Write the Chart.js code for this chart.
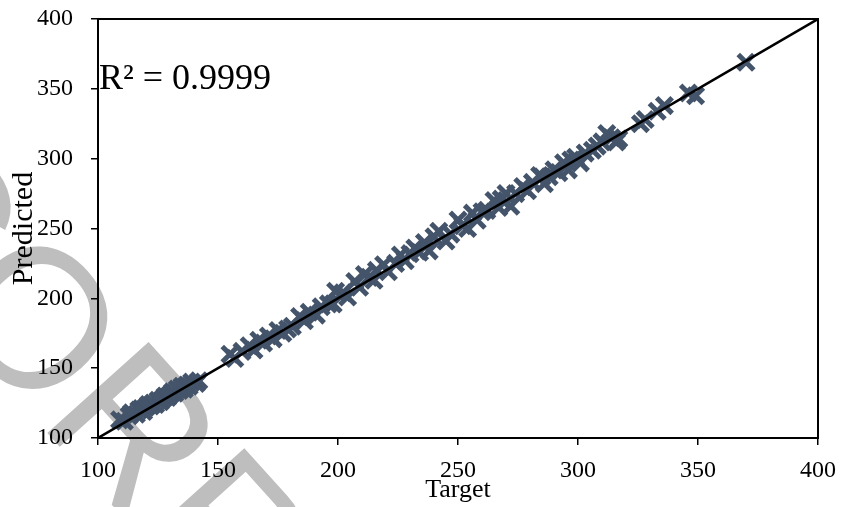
<!DOCTYPE html>
<html>
<head>
<meta charset="utf-8">
<script src="https://cdn.jsdelivr.net/npm/chart.js@4/dist/chart.umd.min.js"></script>
<style>
    html, body { margin: 0; padding: 0; background: #ffffff; }
    canvas { display: block; }
</style>
</head>
<body>
<canvas id="scatterChart" width="841" height="507"></canvas>
<script>
const targetVals = [
    109, 111, 113, 114, 116, 117, 118, 119, 120, 121, 122, 123, 124, 125, 126,
    127, 128, 129, 130, 131, 132, 133, 134, 135, 136, 137, 138, 139, 141, 142,
    155, 157, 160, 163, 165, 167, 169, 171, 173, 175, 177, 179, 181, 184, 186,
    188, 191, 193, 196, 198, 199, 202, 204, 207, 209, 211, 213, 215, 216, 219,
    221, 224, 226, 228, 230, 232, 234, 236, 238, 240, 242, 245, 247, 250, 252,
    254, 256, 258, 260, 262, 265, 267, 268, 270, 272, 274, 277, 279, 281, 284,
    285, 286, 288, 290, 292, 294, 296, 297, 299, 301, 303, 306, 308, 310, 312,
    314, 316, 317, 326, 328, 333, 336, 346, 349, 370
];
const predictedVals = [
    113, 112, 116, 118, 117, 120, 121, 119, 122, 124, 123, 125, 124, 127, 126,
    128, 130, 129, 131, 133, 132, 135, 134, 137, 135, 138, 137, 140, 139, 141,
    160, 157, 162, 166, 163, 170, 168, 173, 171, 177, 175, 178, 180, 187, 184,
    190, 188, 194, 196, 196, 205, 204, 201, 212, 208, 217, 215, 213, 220, 224,
    219, 225, 231, 227, 232, 236, 233, 240, 234, 244, 248, 241, 246, 256, 252,
    250, 261, 256, 262, 263, 270, 265, 271, 275, 266, 275, 280, 277, 283, 288,
    287, 282, 287, 292, 290, 297, 292, 299, 301, 297, 304, 306, 309, 312, 318,
    315, 312, 314, 325, 328, 334, 338, 347, 345, 369
];
const lineX = [100, 400];
const lineY = [100, 400];

const AXIS_MIN = 100;
const AXIS_MAX = 400;
const AXIS_STEP = 50;
const X_TITLE = "Target";
const Y_TITLE = "Predicted";
const R2_LABEL = "R\u00b2 = 0.9999";
const WATERMARK = "UNCORRECTED PROOF";

const SERIF = "'Liberation Serif', 'Times New Roman', serif";
const markerColor = "#44546a";

function toPoints(xs, ys) {
    return xs.map((x, i) => ({ x, y: ys[i] }));
}

// faint rotated watermark behind everything, the "O" centred left of the plot
const watermarkPlugin = {
    id: "watermark",
    beforeDraw(chart) {
        const { ctx } = chart;
        const size = 198;
        ctx.save();
        ctx.font = `${size}px 'Liberation Sans', Arial, sans-serif`;
        ctx.textAlign = "left";
        ctx.textBaseline = "alphabetic";
        const before = ctx.measureText("UNC").width;
        const oWidth = ctx.measureText("O").width;
        ctx.translate(38, 316);
        ctx.rotate(48 * Math.PI / 180);
        ctx.fillStyle = "#bebebe";
        ctx.fillText(WATERMARK, -(before + oWidth / 2), size * 0.36);
        ctx.restore();
    },
};

// box round the plot and the R² note
const framePlugin = {
    id: "frame",
    afterDraw(chart) {
        const { ctx, chartArea } = chart;
        ctx.save();
        ctx.strokeStyle = "#000000";
        ctx.lineWidth = 2;
        ctx.strokeRect(chartArea.left, chartArea.top,
            chartArea.right - chartArea.left, chartArea.bottom - chartArea.top);
        ctx.fillStyle = "#000000";
        ctx.font = `36px ${SERIF}`;
        ctx.textBaseline = "alphabetic";
        ctx.textAlign = "left";
        ctx.fillText(R2_LABEL, chartArea.left + 1, 89);
        ctx.restore();
    },
};

const tickFont = { family: SERIF, size: 24 };

function noEdgePadding(scale) {
    scale.paddingTop = 0;
    scale.paddingBottom = 0;
    scale.paddingLeft = 0;
    scale.paddingRight = 0;
}

new Chart(document.getElementById("scatterChart"), {
    type: "scatter",
    data: {
        datasets: [
            {
                type: "line",
                data: toPoints(lineX, lineY),
                borderColor: "#000000",
                borderWidth: 2.5,
                pointRadius: 0,
                fill: false,
                order: 0,
            },
            {
                data: toPoints(targetVals, predictedVals),
                pointStyle: "crossRot",
                pointRadius: 11,
                pointBorderWidth: 5,
                borderColor: markerColor,
                backgroundColor: markerColor,
                order: 1,
            },
        ],
    },
    options: {
        responsive: false,
        animation: false,
        events: [],
        layout: { padding: { top: 19, right: 23, left: 0, bottom: 0 } },
        plugins: {
            legend: { display: false },
            tooltip: { enabled: false },
        },
        scales: {
            x: {
                type: "linear",
                min: AXIS_MIN,
                max: AXIS_MAX,
                afterFit(scale) {
                    scale.height = 69;
                    noEdgePadding(scale);
                },
                ticks: {
                    stepSize: AXIS_STEP,
                    color: "#000000",
                    font: tickFont,
                    padding: 11,
                    maxRotation: 0,
                },
                grid: {
                    drawOnChartArea: false,
                    tickLength: 7,
                    color: "#000000",
                    lineWidth: 1.5,
                },
                border: { color: "#000000", width: 2 },
                title: {
                    display: true,
                    text: X_TITLE,
                    color: "#000000",
                    font: { family: SERIF, size: 26 },
                    padding: { top: 0, bottom: 1 },
                },
            },
            y: {
                type: "linear",
                min: AXIS_MIN,
                max: AXIS_MAX,
                afterFit(scale) {
                    scale.width = 98;
                    noEdgePadding(scale);
                },
                ticks: {
                    stepSize: AXIS_STEP,
                    color: "#000000",
                    font: tickFont,
                    padding: 18,
                },
                grid: {
                    drawOnChartArea: false,
                    tickLength: 7,
                    color: "#000000",
                    lineWidth: 1.5,
                },
                border: { color: "#000000", width: 2 },
                title: {
                    display: true,
                    text: Y_TITLE,
                    color: "#000000",
                    font: { family: SERIF, size: 30 },
                    padding: { top: 6, bottom: 0 },
                },
            },
        },
    },
    plugins: [watermarkPlugin, framePlugin],
});
</script>
</body>
</html>
